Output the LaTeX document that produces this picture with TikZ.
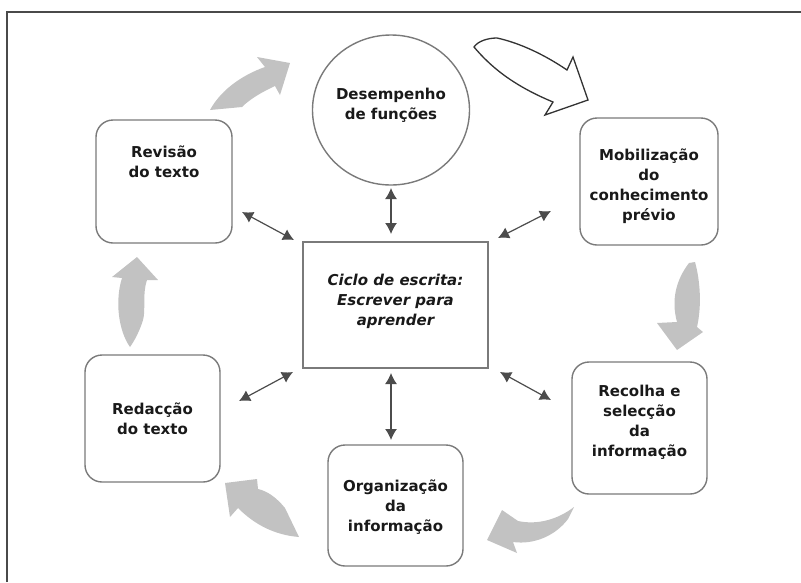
\documentclass[tikz,border=0pt]{standalone}
\usepackage{fontspec}
\setmainfont{DejaVu Sans}
\usetikzlibrary{arrows.meta,shapes.geometric}
\definecolor{boxgray}{HTML}{7A7A7A}
\definecolor{arrgray}{HTML}{C2C2C2}
\definecolor{framegray}{HTML}{4A4A4A}
\begin{document}
\begin{tikzpicture}[x=1pt,y=-1pt,
  every node/.style={inner sep=0pt,outer sep=0pt},
  rbox/.style={draw=boxgray,line width=1.4pt,rounded corners=17pt},
  txt/.style={align=center,font=\fontsize{15}{20}\selectfont\bfseries,text=black!90},
  dbl/.style={draw=black!70,line width=1.2pt,{Latex[length=11pt,width=12pt]}-{Latex[length=11pt,width=12pt]}},
  garrow/.style={fill=arrgray,draw=none},
  oarrow/.style={fill=white,draw=black!80,line width=1.3pt,line join=miter}]
\useasboundingbox (0,0) rectangle (801,582);
% frame
\draw[framegray,line width=2pt] (7,582) -- (7,12) -- (801,12);

% nodes
\node[draw=boxgray,line width=1.4pt,ellipse,minimum width=157pt,minimum height=150pt] (ell) at (391,110) {};
\node[txt] (ellt) at (391,105) {Desempenho\\de funções};

\node[rbox,minimum width=136pt,minimum height=123pt] (rev) at (164,181.5) {};
\node[txt] (revt) at (164,162) {Revisão\\do texto};

\node[rbox,minimum width=138pt,minimum height=127pt] (mob) at (649,181.5) {};
\node[txt] (mobt) at (649,186) {Mobilização\\do\\conhecimento\\prévio};

\node[rbox,minimum width=135pt,minimum height=132pt] (rec) at (639.5,428) {};
\node[txt] (rect) at (639.5,422) {Recolha e\\selecção\\da\\informação};

\node[rbox,minimum width=135pt,minimum height=121pt] (org) at (395.5,505.5) {};
\node[txt] (orgt) at (395.5,507) {Organização\\da\\informação};

\node[rbox,minimum width=135pt,minimum height=127pt] (red) at (152.5,418.5) {};
\node[txt] (redt) at (152.5,419) {Redacção\\do texto};

\node[draw=boxgray,line width=1.4pt,minimum width=185pt,minimum height=126pt] (ctr) at (395.5,305) {};
\node[txt,font=\fontsize{15}{20}\selectfont\bfseries\itshape] (ctrt) at (395.5,301) {Ciclo de escrita:\\Escrever para\\aprender};

% double-headed connectors
\draw[dbl,shorten <=3pt,shorten >=8pt] (ell.south) -- (ell.south |- ctr.north);
\draw[dbl,shorten <=5pt,shorten >=5pt] (ctr.south -| ell.south) -- (ell.south |- org.north);
\coordinate (ul1) at (242,212); \coordinate (ul2) at (294,240);
\coordinate (ur1) at (498,238); \coordinate (ur2) at (551,211);
\coordinate (lr1) at (500,372); \coordinate (lr2) at (551,400);
\coordinate (ll1) at (293,372); \coordinate (ll2) at (239,401);
\draw[dbl] (ul1) -- (ul2);
\draw[dbl] (ur1) -- (ur2);
\draw[dbl] (lr1) -- (lr2);
\draw[dbl] (ll1) -- (ll2);

% gray block arrows
\fill[garrow] (210,110) .. controls (222,88) and (245,74) .. (265,67) -- (257,57) -- (290,63) -- (280,95) -- (275,86) .. controls (262,92) and (250,99) .. (242,107) -- cycle;
\fill[garrow] (689,263) .. controls (676,280) and (671,300) .. (677,322) -- (657,323) -- (677,350) -- (703,332) -- (697,327) .. controls (702,305) and (700,280) .. (695,262) -- cycle;
\fill[garrow] (574,507) .. controls (557,520) and (537,525) .. (518,521) -- (502,510) -- (487,540) -- (517,553) -- (513,542) .. controls (535,545) and (556,535) .. (568,519) -- cycle;
\fill[garrow] (285,508) .. controls (276,497) and (267,491) .. (258,489) -- (257,479) -- (225,483) -- (230,517) -- (238,508) .. controls (255,525) and (275,535) .. (299,537) -- cycle;
\fill[garrow] (130,347) .. controls (118,330) and (115,300) .. (122,278) -- (112,277) -- (137,257) -- (158,280) -- (147,280) .. controls (142,295) and (146,310) .. (143,320) .. controls (140,330) and (135,340) .. (130,347) -- cycle;

% outlined arrow
\draw[oarrow] (474,47) .. controls (490,66) and (512,85) .. (553,102) -- (545,115) -- (588,100) -- (573,57) -- (567,70) .. controls (545,55) and (520,43) .. (497,38) .. controls (488,38) and (478,41) .. (474,47) -- cycle;
\end{tikzpicture}
\end{document}
